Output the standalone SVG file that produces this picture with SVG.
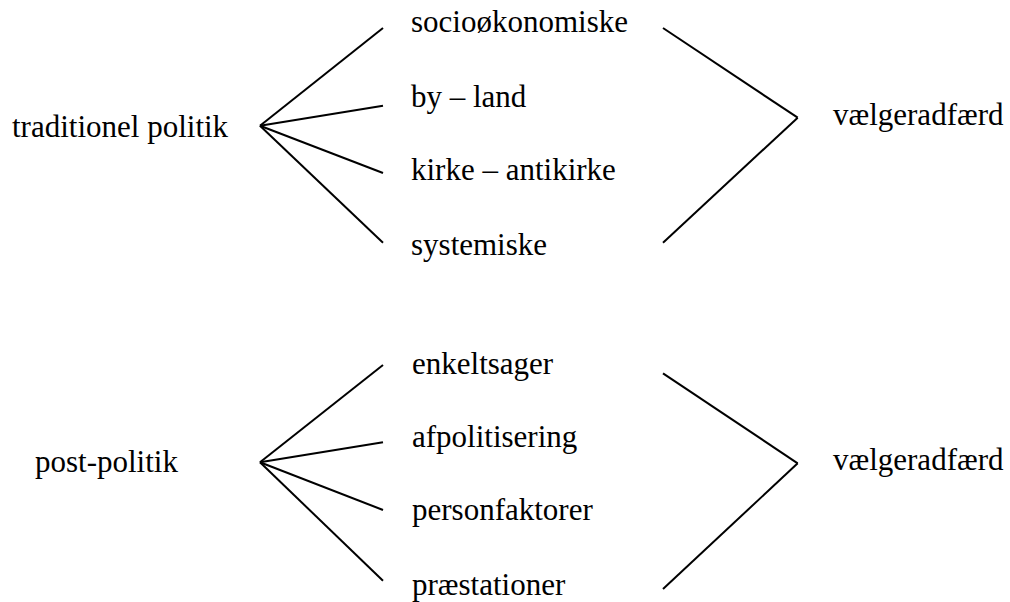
<svg xmlns="http://www.w3.org/2000/svg" width="1010" height="602" viewBox="0 0 1010 602">
<style>
.t{font-family:'Liberation Serif','Times New Roman',serif;font-size:31px;fill:#000}
.c line{stroke:#000;stroke-width:2;stroke-linecap:butt}
</style>
<rect width="1010" height="602" fill="#fff"/>
<g class="c" id="connectors">
<line x1="260" y1="125.7" x2="383" y2="28"/>
<line x1="260" y1="125.7" x2="383" y2="105.7"/>
<line x1="260" y1="125.7" x2="383" y2="173"/>
<line x1="260" y1="125.7" x2="383" y2="242.7"/>
<line x1="663" y1="28" x2="797.7" y2="117.7"/>
<line x1="797.7" y1="117.7" x2="663" y2="242.7"/>
<line x1="260" y1="462.3" x2="383" y2="365"/>
<line x1="260" y1="462.3" x2="383" y2="442.3"/>
<line x1="260" y1="462.3" x2="383" y2="510"/>
<line x1="260" y1="462.3" x2="383" y2="580.7"/>
<line x1="663" y1="373.3" x2="797.7" y2="463.3"/>
<line x1="797.7" y1="463.3" x2="663" y2="589"/>
</g>
<g class="t">
<g id="traditionel"><text x="12" y="137">traditionel politik</text></g>
<g id="socio"><text x="411" y="32">socioøkonomiske</text></g>
<g id="byland"><text x="411" y="106.5">by – land</text></g>
<g id="kirke"><text x="411" y="180">kirke – antikirke</text></g>
<g id="systemiske"><text x="411" y="255">systemiske</text></g>
<g id="vaelger1"><text x="833" y="125">vælgeradfærd</text></g>
<g id="postpolitik"><text x="35" y="471.5">post-politik</text></g>
<g id="enkeltsager"><text x="412" y="373.5">enkeltsager</text></g>
<g id="afpolitisering"><text x="412" y="446.5">afpolitisering</text></g>
<g id="personfaktorer"><text x="412" y="520">personfaktorer</text></g>
<g id="praestationer"><text x="412" y="595">præstationer</text></g>
<g id="vaelger2"><text x="833" y="470">vælgeradfærd</text></g>
</g>
</svg>
